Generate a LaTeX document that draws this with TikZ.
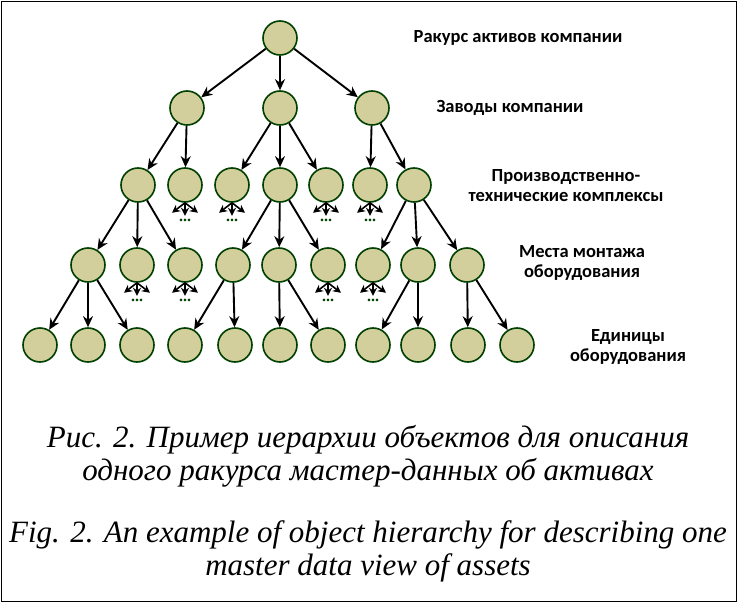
\documentclass[tikz,border=0pt]{standalone}
\usepackage{fontspec}
\setmainfont{Liberation Serif}
\newfontfamily\lblfont{Carlito}
\usetikzlibrary{arrows.meta,positioning}
\tikzset{
    obj/.style={circle, draw=green!25!black, fill=olive!30!white!85!gray, line width=1.6pt, minimum size=34pt, inner sep=0pt},
    arr/.style={-{Stealth[length=11pt,width=10pt]}, line width=1.9pt},
    stub/.style={-{Stealth[length=8pt,width=8pt]}, line width=1.6pt},
    lbl/.style={font=\lblfont\bfseries\fontsize{18.5}{20}\selectfont, align=center},
    captext/.style={font=\itshape\fontsize{31}{33}\selectfont, align=center}
}
\begin{document}
\begin{tikzpicture}[x=1pt, y=-1pt]
    \useasboundingbox (0,0) rectangle (737,602);
    \draw[line width=0.8pt] (1,1) rectangle (736,601);
    % levels
    \node[obj] (r) at (280,38) {};
    \foreach \i/\x in {1/187,2/280,3/372}
        \node[obj] (a\i) at (\x,108) {};
    \foreach \i/\x in {1/138,2/185,3/232,4/280,5/326,6/370,7/414}
        \node[obj] (b\i) at (\x,185) {};
    \foreach \i/\x in {1/88,2/137,3/185,4/233,5/279,6/328,7/373,8/418,9/467}
        \node[obj] (c\i) at (\x,265) {};
    \foreach \i/\x in {1/40,2/88,3/137,4/185,5/235,6/280,7/328,8/373,9/418,10/468,11/517}
        \node[obj] (d\i) at (\x,345) {};
    % connectors
    \foreach \f/\t in {r/a1,r/a2,r/a3,a1/b1,a1/b2,a2/b3,a2/b4,a2/b5,a3/b6,a3/b7,
                       b1/c1,b1/c2,b1/c3,b4/c4,b4/c5,b4/c6,b7/c7,b7/c8,b7/c9,
                       c1/d1,c1/d2,c1/d3,c4/d4,c4/d5,c5/d6,c5/d7,c8/d8,c8/d9,c9/d10,c9/d11}
        \draw[arr] (\f) -- (\t);
    % unfolded branches
    \foreach \n in {b2,b3,b5,b6,c2,c3,c6,c7} {
        \draw[stub] (\n.south) -- ++(-13,10);
        \draw[stub] (\n.south) -- ++(0,13);
        \draw[stub] (\n.south) -- ++(13,10);
        \node[font=\bfseries\fontsize{16}{16}\selectfont, text=green!25!black, below=13pt of \n.south] {...};
    }
    % level labels
    \node[lbl] at (518,38) {Ракурс активов компании};
    \node[lbl] at (510,108) {Заводы компании};
    \node[lbl] at (566,186) {Производственно-\\технические комплексы};
    \node[lbl] at (582,263) {Места монтажа\\оборудования};
    \node[lbl] at (628,347) {Единицы\\оборудования};
    % captions
    \node[captext] at (368,456) {Рис. 2. Пример иерархии объектов для описания\\одного ракурса мастер-данных об активах};
    \node[captext] at (368,551) {Fig. 2. An example of object hierarchy for describing one\\master data view of assets};
\end{tikzpicture}
\end{document}
